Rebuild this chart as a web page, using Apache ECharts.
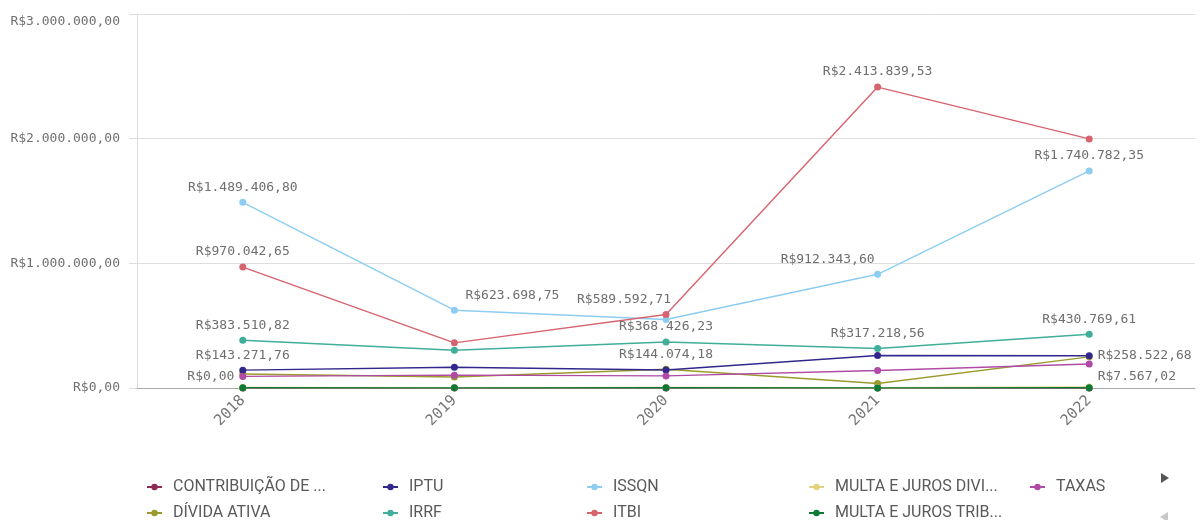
<!DOCTYPE html>
<html>
<head>
<meta charset="utf-8">
<script src="https://cdn.jsdelivr.net/npm/echarts@6/dist/echarts.min.js"></script>
<style>html,body{margin:0;padding:0;background:#fff;}#c{width:1201px;height:520px;}</style>
</head>
<body>
<div id="c"></div>
<script>
// ---- data ----
const years = ['2018', '2019', '2020', '2021', '2022'];
const yTicks = [0, 1000000, 2000000, 3000000];

const contribuicao = [0, 0, 0, 0, 0];
const dividaAtiva = [112000, 88000, 150000, 36000, 250000];
const iptu = [143271.76, 167000, 144074.18, 261000, 258522.68];
const irrf = [383510.82, 303000, 368426.23, 317218.56, 430769.61];
const issqn = [1489406.80, 623698.75, 549000, 912343.60, 1740782.35];
const itbi = [970042.65, 362000, 589592.71, 2413839.53, 1998000];
const multaDivi = [4000, 3000, 3500, 2500, 7567.02];
const multaTrib = [1500, 1200, 1800, 1000, 2500];
const taxas = [93000, 103000, 97000, 140000, 192000];

const seriesNames = ['CONTRIBUIÇÃO DE ...', 'DÍVIDA ATIVA', 'IPTU', 'IRRF', 'ISSQN', 'ITBI',
  'MULTA E JUROS DIVI...', 'MULTA E JUROS TRIB...', 'TAXAS'];
const seriesValues = [contribuicao, dividaAtiva, iptu, irrf, issqn, itbi, multaDivi, multaTrib, taxas];

// ---- styling ----
const colors = ['#8c2a55', '#9c9a2c', '#32288c', '#40ae99', '#8dcdf0', '#d5646f', '#e2d27f', '#0c7a34', '#b04aa6'];
// which points carry a value label, and where (style only)
const labelSpec = {
  'CONTRIBUIÇÃO DE ...': {0: {position: 'left', offset: [0, -11]}},
  'IPTU': {0: {position: 'top'}, 2: {position: 'top'}, 4: {position: 'right', offset: [0, 0]}},
  'IRRF': {0: {position: 'top'}, 2: {position: 'top'}, 3: {position: 'top'}, 4: {position: 'top'}},
  'ISSQN': {0: {position: 'top'}, 1: {position: 'top', offset: [58, 0]}, 3: {position: 'top', offset: [-50, 0]}, 4: {position: 'top'}},
  'ITBI': {0: {position: 'top'}, 2: {position: 'top', offset: [-42, 0]}, 3: {position: 'top'}},
  'MULTA E JUROS DIVI...': {4: {position: 'right', offset: [0, -10]}}
};

function fmtBRL(v) {
  const s = Math.abs(v).toFixed(2);
  const parts = s.split('.');
  const intPart = parts[0].replace(/\B(?=(\d{3})+(?!\d))/g, '.');
  return (v < 0 ? '-' : '') + 'R$' + intPart + ',' + parts[1];
}

const mono = 'DejaVu Sans Mono';
const series = seriesNames.map((name, i) => ({
  name: name,
  type: 'line',
  symbol: 'circle',
  symbolSize: 7,
  color: colors[i],
  lineStyle: {width: 1.4},
  emphasis: {disabled: true},
  data: seriesValues[i].map((v, j) => {
    const spec = (labelSpec[name] || {})[j];
    const item = {value: v};
    if (spec) {
      item.label = Object.assign({
        show: true,
        distance: 5,
        formatter: p => fmtBRL(p.value),
        fontFamily: mono,
        fontSize: 13,
        color: '#6e6e6e'
      }, spec);
    }
    return item;
  })
}));

// legend grid: column-major, 2 rows; text x positions per column
const legendTextX = [172, 408, 612, 834, 1055];
const legendRowY = [479, 505];
const legends = seriesNames.map((name, i) => ({
  orient: 'horizontal',
  left: legendTextX[Math.floor(i / 2)] - 26,
  top: legendRowY[i % 2],
  padding: 0,
  itemWidth: 15,
  itemHeight: 8,
  selectedMode: false,
  data: [name],
  textStyle: {fontFamily: 'Roboto', fontSize: 16, color: '#595959', lineHeight: 16, padding: [0, 0, 0, 6]}
}));

const yMax = yTicks[yTicks.length - 1];
const chart = echarts.init(document.getElementById('c'), null, {renderer: 'canvas'});
chart.setOption({
  animation: false,
  backgroundColor: '#ffffff',
  grid: {left: 137, right: 6, top: 14, bottom: 132, containLabel: false},
  legend: legends,
  xAxis: {
    type: 'category',
    data: years,
    boundaryGap: true,
    axisLine: {lineStyle: {color: '#a8a8a8', width: 1}},
    axisTick: {show: true, alignWithLabel: true, length: 4, lineStyle: {color: '#cccccc'}},
    axisLabel: {rotate: 45, margin: 10, fontFamily: mono, fontSize: 15, color: '#757575'}
  },
  yAxis: {
    type: 'value',
    min: yTicks[0],
    max: yMax,
    interval: yTicks[1] - yTicks[0],
    axisLine: {show: true, lineStyle: {color: '#dddddd'}},
    axisTick: {show: true, length: 8, lineStyle: {color: '#dddddd'}},
    splitLine: {lineStyle: {color: '#dedede'}},
    axisLabel: {
      margin: 17, fontFamily: mono, fontSize: 13, color: '#707070',
      formatter: v => v === yMax ? '{t|' + fmtBRL(v) + '}' : fmtBRL(v),
      rich: {t: {fontFamily: mono, fontSize: 13, color: '#707070', padding: [16, 0, 0, 0]}}
    }
  },
  graphic: [
    {type: 'polygon', shape: {points: [[1161, 473], [1161, 483], [1169, 478]]}, style: {fill: '#555555'}},
    {type: 'polygon', shape: {points: [[1168, 512], [1168, 522], [1160, 517]]}, style: {fill: '#c8c8c8'}}
  ],
  series: series
});
</script>
</body>
</html>
